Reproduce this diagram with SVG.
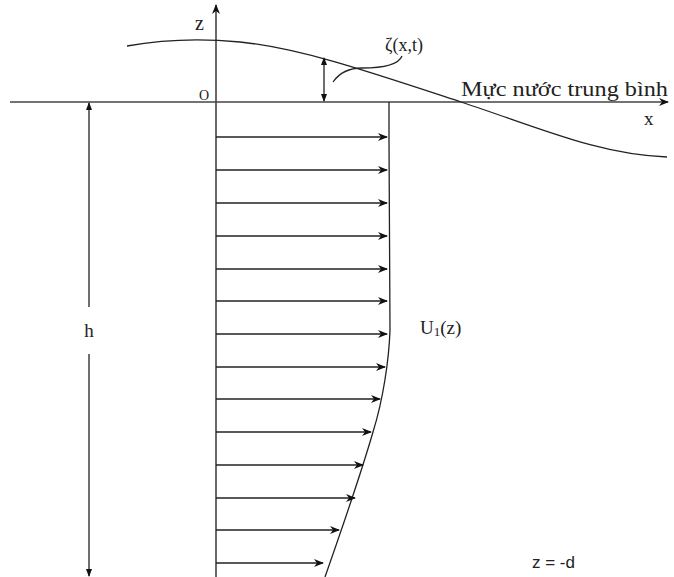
<svg xmlns="http://www.w3.org/2000/svg" width="674" height="577" viewBox="0 0 674 577">
<defs>
<marker id="ah" markerWidth="10" markerHeight="8" refX="9" refY="4" orient="auto" markerUnits="userSpaceOnUse">
<path d="M0,0 L10,4 L0,8 L3,4 Z" fill="#111"/>
</marker>
<marker id="ahs" markerWidth="8" markerHeight="6" refX="7" refY="3" orient="auto-start-reverse" markerUnits="userSpaceOnUse">
<path d="M0,0 L8,3 L0,6 Z" fill="#111"/>
</marker>
</defs>
<style>
.ln{stroke:#222;stroke-width:1.3;fill:none}
.ax{stroke:#444;stroke-width:1.6;fill:none}
.ar{stroke:#222;stroke-width:1.3;fill:none;marker-end:url(#ah)}
.t{font-family:"Liberation Serif","Times New Roman",serif;fill:#222}
.s{font-family:"Liberation Sans",Arial,sans-serif;fill:#222}
</style>
<rect width="674" height="577" fill="#fff"/>
<g id="axes">
<line class="ax" x1="10" y1="102" x2="668" y2="102" marker-end="url(#ah)"/>
<line class="ax" x1="216" y1="577" x2="216" y2="5" marker-end="url(#ah)"/>
<text class="t" x="195" y="30" font-size="20">z</text>
<text class="t" x="199" y="100" font-size="14">O</text>
<text class="t" x="644" y="125" font-size="19">x</text>
</g>
<g id="wave">
<path class="ln" d="M127,46 C160,40 200,38 240,42 C300,48 370,72 461,102 C540,128 600,155 667,157"/>
<text class="t" x="461" y="96" font-size="21" textLength="207" lengthAdjust="spacingAndGlyphs">Mực nước trung bình</text>
</g>
<g id="zeta">
<line class="ln" x1="324" y1="58" x2="324" y2="101" marker-start="url(#ahs)" marker-end="url(#ahs)"/>
<path class="ln" d="M333,82 C340,72 350,68 362,68 C380,68 398,66 402,56"/>
<text class="t" x="385" y="51" font-size="18">ζ(x,t)</text>
</g>
<g id="depth">
<line class="ln" x1="89" y1="307" x2="89" y2="103" marker-end="url(#ahs)"/>
<line class="ln" x1="89" y1="354" x2="89" y2="576" marker-end="url(#ahs)"/>
<text class="t" x="89" y="337" font-size="19" text-anchor="middle">h</text>
</g>
<g id="profile">
<path class="ln" d="M389,102 L389,140 L390,330 C389,360 383,400 373,432 C362,470 345,520 325,577"/>
<text class="t" x="420" y="334" font-size="19">U<tspan font-size="13" dy="2">1</tspan><tspan dy="-2">(z)</tspan></text>
<text class="s" x="532" y="568" font-size="17">z = -d</text>
</g>
<g id="connectors">
<line class="ar" x1="216" y1="137" x2="387" y2="137"/>
<line class="ar" x1="216" y1="170" x2="387" y2="170"/>
<line class="ar" x1="216" y1="203" x2="387" y2="203"/>
<line class="ar" x1="216" y1="236" x2="387" y2="236"/>
<line class="ar" x1="216" y1="269" x2="387" y2="269"/>
<line class="ar" x1="216" y1="301" x2="387" y2="301"/>
<line class="ar" x1="216" y1="334" x2="387" y2="334"/>
<line class="ar" x1="216" y1="367" x2="385" y2="367"/>
<line class="ar" x1="216" y1="399" x2="380" y2="399"/>
<line class="ar" x1="216" y1="432" x2="371" y2="432"/>
<line class="ar" x1="216" y1="465" x2="363" y2="465"/>
<line class="ar" x1="216" y1="498" x2="355" y2="498"/>
<line class="ar" x1="216" y1="530" x2="339" y2="530"/>
<line class="ar" x1="216" y1="563" x2="323" y2="563"/>
</g>
</svg>
